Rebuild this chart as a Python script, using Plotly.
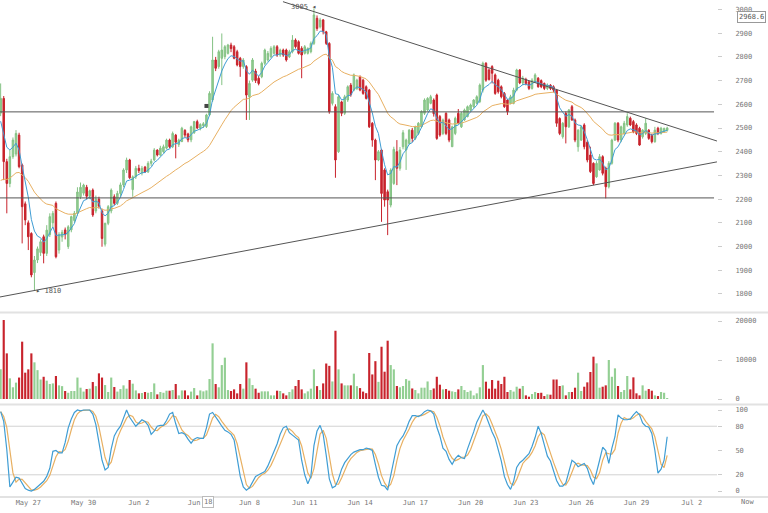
import pandas as pd
import plotly.graph_objects as go

# ---------------- data (4-hour candles, BTC/USD, May 25 - Jun 30 2017) ----------------
start_time = "2017-05-25 12:00"

open_ = [2563, 2625, 2358, 2266, 2379, 2390, 2470, 2344, 2180, 2100, 2055, 1890, 1943, 1975, 2041, 1971, 2050, 2100, 2182, 1985,
         2040, 2070, 2000, 2070, 2110, 2140, 2210, 2225, 2250, 2212, 2238, 2150, 2200, 2150, 2010, 2098, 2150, 2210, 2182, 2224,
         2260, 2323, 2365, 2240, 2294, 2330, 2310, 2335, 2315, 2351, 2365, 2407, 2386, 2400, 2415, 2449, 2421, 2470, 2430, 2443,
         2490, 2475, 2450, 2480, 2527, 2500, 2510, 2506, 2555, 2618, 2787, 2759, 2794, 2801, 2815, 2850, 2843, 2822, 2794, 2759,
         2759, 2632, 2702, 2740, 2710, 2716, 2773, 2787, 2801, 2815, 2843, 2808, 2829, 2829, 2800, 2822, 2871, 2864, 2836, 2815,
         2815, 2822, 2857, 2963, 2927, 2956, 2906, 2857, 2604, 2590, 2400, 2610, 2562, 2618, 2681, 2660, 2667, 2716, 2702, 2674,
         2660, 2520, 2449, 2365, 2407, 2323, 2231, 2175, 2266, 2400, 2330, 2421, 2407, 2435, 2491, 2456, 2477, 2505, 2562, 2576,
         2604, 2618, 2639, 2548, 2477, 2562, 2534, 2421, 2477, 2562, 2505, 2534, 2548, 2576, 2590, 2604, 2611, 2660, 2773, 2745,
         2759, 2724, 2702, 2674, 2646, 2618, 2604, 2604, 2660, 2745, 2690, 2705, 2695, 2667, 2695, 2710, 2700, 2688, 2667, 2681,
         2674, 2660, 2540, 2463, 2562, 2505, 2590, 2534, 2421, 2449, 2513, 2440, 2386, 2351, 2294, 2323, 2379, 2330, 2252, 2351,
         2449, 2520, 2449, 2477, 2513, 2541, 2527, 2513, 2499, 2463, 2477, 2491, 2470, 2442, 2499, 2477, 2484, 2490]
high = [2688, 2635, 2370, 2407, 2460, 2491, 2480, 2350, 2190, 2110, 2060, 1960, 2000, 2030, 2050, 2090, 2140, 2150, 2190, 2060,
        2070, 2080, 2090, 2130, 2150, 2250, 2270, 2265, 2260, 2240, 2245, 2215, 2210, 2160, 2100, 2175, 2245, 2220, 2235, 2270,
        2330, 2375, 2370, 2300, 2340, 2345, 2340, 2340, 2360, 2370, 2415, 2410, 2425, 2430, 2455, 2455, 2485, 2475, 2455, 2505,
        2495, 2480, 2510, 2530, 2535, 2520, 2525, 2560, 2655, 2885, 2800, 2830, 2899, 2850, 2855, 2860, 2850, 2830, 2800, 2795,
        2765, 2700, 2795, 2750, 2720, 2780, 2835, 2825, 2845, 2850, 2850, 2835, 2835, 2835, 2830, 2892, 2878, 2870, 2845, 2850,
        2840, 2865, 3005, 2975, 2965, 2960, 2910, 2862, 2655, 2600, 2640, 2615, 2640, 2680, 2690, 2730, 2708, 2722, 2708, 2680,
        2665, 2525, 2455, 2407, 2412, 2330, 2240, 2330, 2421, 2449, 2420, 2491, 2455, 2495, 2500, 2510, 2525, 2575, 2625, 2630,
        2640, 2625, 2645, 2555, 2540, 2566, 2540, 2510, 2548, 2580, 2568, 2582, 2595, 2603, 2622, 2638, 2688, 2780, 2778, 2752,
        2765, 2730, 2708, 2680, 2652, 2622, 2640, 2670, 2750, 2748, 2720, 2712, 2700, 2710, 2731, 2715, 2705, 2692, 2688, 2685,
        2680, 2665, 2545, 2525, 2570, 2580, 2597, 2540, 2495, 2510, 2520, 2449, 2421, 2355, 2360, 2390, 2385, 2337, 2360, 2455,
        2525, 2525, 2510, 2530, 2562, 2548, 2534, 2520, 2505, 2495, 2541, 2495, 2475, 2505, 2505, 2505, 2502, 2505]
low = [2550, 2280, 2140, 2250, 2370, 2380, 2330, 2013, 2090, 1985, 1870, 1816, 1930, 1960, 1929, 1960, 2040, 2080, 1950, 1970,
       2020, 2030, 1990, 2060, 2100, 2130, 2200, 2215, 2200, 2200, 2125, 2140, 2160, 1999, 2000, 2090, 2140, 2175, 2175, 2210,
       2250, 2310, 2285, 2210, 2285, 2310, 2300, 2310, 2310, 2340, 2360, 2380, 2380, 2395, 2410, 2415, 2415, 2372, 2420, 2440,
       2460, 2440, 2440, 2475, 2495, 2490, 2500, 2500, 2550, 2610, 2740, 2750, 2681, 2790, 2810, 2820, 2790, 2760, 2716, 2750,
       2534, 2534, 2695, 2690, 2680, 2710, 2765, 2780, 2795, 2810, 2800, 2800, 2800, 2780, 2795, 2815, 2835, 2810, 2710, 2810,
       2810, 2815, 2850, 2910, 2920, 2895, 2850, 2560, 2595, 2290, 2395, 2550, 2555, 2610, 2632, 2655, 2660, 2655, 2640, 2620,
       2500, 2421, 2280, 2360, 2104, 2168, 2048, 2165, 2260, 2259, 2320, 2410, 2323, 2430, 2440, 2449, 2470, 2500, 2555, 2570,
       2600, 2548, 2450, 2463, 2470, 2470, 2440, 2421, 2470, 2515, 2500, 2530, 2545, 2570, 2585, 2600, 2605, 2650, 2695, 2700,
       2688, 2640, 2645, 2625, 2585, 2555, 2600, 2600, 2655, 2685, 2680, 2680, 2660, 2662, 2690, 2670, 2668, 2660, 2660, 2660,
       2650, 2505, 2470, 2455, 2435, 2500, 2530, 2440, 2400, 2445, 2410, 2355, 2310, 2259, 2290, 2320, 2300, 2203, 2245, 2345,
       2445, 2440, 2440, 2470, 2505, 2508, 2478, 2470, 2425, 2455, 2470, 2450, 2435, 2438, 2470, 2472, 2480, 2485]
close = [2625, 2358, 2266, 2379, 2449, 2477, 2337, 2168, 2112, 2041, 1880, 1943, 1990, 2020, 1971, 2069, 2126, 2140, 1957, 2050,
         2060, 2050, 2083, 2126, 2140, 2230, 2250, 2259, 2212, 2235, 2133, 2200, 2170, 2034, 2098, 2168, 2238, 2182, 2224, 2260,
         2323, 2365, 2290, 2294, 2330, 2320, 2330, 2315, 2351, 2360, 2407, 2386, 2415, 2421, 2449, 2421, 2477, 2440, 2449, 2499,
         2470, 2450, 2505, 2527, 2500, 2515, 2518, 2555, 2646, 2787, 2752, 2822, 2829, 2843, 2850, 2835, 2794, 2766, 2759, 2787,
         2639, 2688, 2787, 2700, 2688, 2773, 2829, 2815, 2836, 2843, 2808, 2829, 2808, 2787, 2822, 2871, 2843, 2815, 2808, 2843,
         2836, 2857, 2977, 2920, 2956, 2906, 2857, 2569, 2646, 2365, 2632, 2562, 2632, 2674, 2640, 2724, 2702, 2660, 2646, 2625,
         2505, 2449, 2365, 2400, 2224, 2196, 2196, 2323, 2410, 2330, 2407, 2480, 2449, 2491, 2456, 2505, 2520, 2569, 2618, 2625,
         2632, 2560, 2456, 2470, 2534, 2477, 2449, 2505, 2541, 2520, 2562, 2576, 2590, 2597, 2618, 2632, 2681, 2773, 2702, 2705,
         2731, 2646, 2653, 2632, 2590, 2569, 2632, 2660, 2745, 2690, 2710, 2688, 2667, 2702, 2724, 2674, 2674, 2667, 2681, 2667,
         2660, 2520, 2477, 2520, 2505, 2576, 2534, 2449, 2491, 2505, 2421, 2365, 2316, 2266, 2351, 2379, 2309, 2252, 2351, 2449,
         2520, 2449, 2505, 2520, 2548, 2513, 2484, 2477, 2428, 2491, 2520, 2456, 2442, 2491, 2477, 2499, 2498, 2500]
volume = [7600, 20250, 11700, 5300, 3000, 4200, 5500, 14700, 6750, 7600, 11700, 9400, 7400, 5000, 5700, 4700, 3850, 4000, 5900, 3500,
          3300, 2050, 1600, 2050, 2050, 5500, 2900, 1900, 2550, 2650, 4350, 3300, 6580, 5500, 3580, 1800, 5500, 3070, 1900, 2550,
          3500, 2650, 4870, 3930, 2200, 1450, 1530, 1800, 1600, 1800, 4000, 1190, 1800, 1600, 2130, 2130, 2300, 3840, 930, 2200,
          2200, 930, 1900, 2810, 930, 2200, 1960, 2200, 5120, 14270, 3840, 3000, 8700, 10600, 2300, 2050, 2470, 1450, 3840, 2650,
          9400, 5300, 3580, 2650, 1600, 1960, 1960, 1960, 930, 930, 2130, 2050, 1450, 930, 1800, 2470, 3330, 4870, 2470, 1450,
          1960, 2650, 7600, 3300, 2300, 4000, 9100, 8500, 4500, 17500, 7600, 4000, 3500, 3500, 3500, 6500, 3300, 2800, 1900, 1500,
          11800, 6300, 9700, 4400, 13400, 7000, 14950, 8700, 7600, 3330, 3000, 3330, 5100, 4700, 2700, 2300, 1450, 2900, 2900, 4500,
          2300, 2700, 5700, 3670, 2470, 2550, 2130, 1960, 1800, 2470, 3330, 2300, 1800, 2130, 930, 1450, 3000, 8700, 4440, 2650,
          4870, 2650, 4700, 3840, 5700, 1800, 2300, 1900, 3150, 2650, 3330, 930, 590, 1270, 1800, 1530, 1600, 760, 1190, 1100,
          5000, 5000, 3330, 3500, 930, 1800, 1800, 2900, 6750, 2050, 3150, 4270, 6920, 10850, 9140, 2900, 3150, 3500, 10000, 5700,
          7860, 3330, 1800, 2300, 5900, 2470, 5550, 1450, 930, 3500, 2130, 2550, 2130, 930, 760, 1800, 1600, 250]
stoch_k = [98, 86, 51, 5, 11, 17, 16, 10, 3, 1, 0, 2, 5, 8, 12, 18, 28, 49, 50, 47,
           47, 60, 78, 89, 97, 100, 99, 100, 100, 100, 95, 82, 60, 38, 26, 29, 52, 68, 75, 80,
           90, 100, 91, 85, 80, 84, 88, 86, 81, 70, 74, 80, 81, 81, 87, 95, 97, 83, 71, 72,
           70, 64, 59, 64, 66, 65, 65, 78, 95, 97, 92, 86, 80, 75, 73, 70, 63, 42, 18, 5,
           1, 4, 12, 18, 20, 22, 24, 31, 40, 48, 58, 70, 78, 80, 72, 69, 66, 63, 38, 20,
           9, 18, 56, 74, 81, 70, 44, 15, 4, 6, 15, 27, 35, 40, 45, 48, 50, 51, 51, 53,
           52, 50, 33, 17, 7, 6, 1, 18, 38, 56, 63, 68, 76, 86, 93, 93, 92, 94, 98, 100,
           99, 95, 79, 68, 53, 49, 39, 33, 40, 44, 41, 40, 52, 62, 73, 85, 93, 100, 93, 82,
           73, 65, 52, 37, 18, 8, 2, 12, 29, 35, 38, 42, 46, 55, 66, 80, 71, 57, 43, 37,
           26, 13, 6, 6, 10, 25, 38, 35, 30, 32, 34, 28, 16, 8, 22, 38, 54, 50, 34, 53,
           67, 94, 90, 88, 88, 89, 94, 98, 94, 84, 80, 79, 71, 50, 22, 27, 38, 67]

# moving-average settings and their starting levels read at the left edge
ema_fast_span, ema_fast_start = 6, 2490
ema_slow_span, ema_slow_start = 30, 2255
stoch_d_len = 3

# drawn levels and trend lines (time, price)
levels = [2568, 2205]
level_span = ["2017-05-25 11:00", "2017-07-03 05:00"]
trend_down = [("2017-06-09 19:40", 3033), ("2017-07-03 08:50", 2445)]
trend_up = [("2017-05-25 11:09", 1787), ("2017-07-03 08:50", 2357)]

x_range = ["2017-05-25 11:09", "2017-07-03 08:53"]
tick_dates = ["2017-05-27", "2017-05-30", "2017-06-02", "2017-06-05", "2017-06-08", "2017-06-11", "2017-06-14",
              "2017-06-17", "2017-06-20", "2017-06-23", "2017-06-26", "2017-06-29", "2017-07-02"]
tick_text = ["May 27", "May 30", "Jun 2", "Jun", "Jun 8", "Jun 11", "Jun 14",
             "Jun 17", "Jun 20", "Jun 23", "Jun 26", "Jun 29", "Jul 2"]
price_ticks = list(range(1800, 3001, 100))
volume_ticks = [0, 10000, 20000]
stoch_ticks = [0, 20, 50, 80, 100]

# ---------------- derived series ----------------
times = pd.date_range(start_time, periods=len(close), freq="4h")
cs = pd.Series(close, dtype=float)


def ema(series, span, seed):
    a = 2.0 / (span + 1)
    out, prev = [], seed
    for v in series:
        prev = prev + a * (v - prev)
        out.append(prev)
    return out


ema_fast = ema(cs, ema_fast_span, ema_fast_start)
ema_slow = ema(cs, ema_slow_span, ema_slow_start)
stoch_d = pd.Series(stoch_k, dtype=float).rolling(stoch_d_len, min_periods=1).mean().tolist()

UP_FILL, UP_LINE = "#93cf93", "#84c284"
DN_FILL, DN_LINE = "#c8232c", "#c8232c"
BLUE, ORANGE = "#3f9dd4", "#e8b062"
vol_colors = [UP_FILL if c >= o else DN_FILL for o, c in zip(open_, close)]

MONO = "DejaVu Sans Mono"
TXT = "#777777"

fig = go.Figure()
fig.add_trace(go.Candlestick(
    x=times, open=open_, high=high, low=low, close=close,
    increasing=dict(fillcolor=UP_FILL, line=dict(color=UP_LINE, width=1)),
    decreasing=dict(fillcolor=DN_FILL, line=dict(color=DN_LINE, width=1)),
    whiskerwidth=0, xaxis="x", yaxis="y", showlegend=False, hoverinfo="skip"))
fig.add_trace(go.Scatter(x=times, y=ema_slow, mode="lines", line=dict(color=ORANGE, width=1),
                         xaxis="x", yaxis="y", showlegend=False, hoverinfo="skip"))
fig.add_trace(go.Scatter(x=times, y=ema_fast, mode="lines", line=dict(color=BLUE, width=1),
                         xaxis="x", yaxis="y", showlegend=False, hoverinfo="skip"))
fig.add_trace(go.Bar(x=times, y=volume, marker=dict(color=vol_colors, line=dict(width=0)),
                     xaxis="x", yaxis="y2", showlegend=False, hoverinfo="skip"))
fig.add_trace(go.Scatter(x=times, y=stoch_d, mode="lines", line=dict(color=ORANGE, width=1.2),
                         xaxis="x", yaxis="y3", showlegend=False, hoverinfo="skip"))
fig.add_trace(go.Scatter(x=times, y=stoch_k, mode="lines", line=dict(color=BLUE, width=1.2),
                         xaxis="x", yaxis="y3", showlegend=False, hoverinfo="skip"))
# crosshair dot
fig.add_trace(go.Scatter(x=["2017-06-05 16:00"], y=[2593], mode="markers",
                         marker=dict(symbol="square", size=4, color="#444"),
                         xaxis="x", yaxis="y", showlegend=False, hoverinfo="skip"))

shapes = []
# pane separators
for yp in [1 - 312.5 / 497, 1 - 404.5 / 497, 0.0]:
    shapes.append(dict(type="line", xref="paper", yref="paper", x0=0, x1=768 / 717, y0=yp, y1=yp,
                       line=dict(color="#e2e2e2", width=2), layer="below"))
# stochastic guide lines
for lv in [20, 80]:
    shapes.append(dict(type="line", xref="paper", yref="y3", x0=0, x1=1, y0=lv, y1=lv,
                       line=dict(color="#d2d2d2", width=1), layer="below"))
for lv in levels:
    shapes.append(dict(type="line", xref="x", yref="y", x0=level_span[0], x1=level_span[1], y0=lv, y1=lv,
                       line=dict(color="#555555", width=1)))
for (t0, p0), (t1, p1) in [trend_down, trend_up]:
    shapes.append(dict(type="line", xref="x", yref="y", x0=t0, x1=t1, y0=p0, y1=p1,
                       line=dict(color="#555555", width=1)))

label_font = dict(family=MONO, size=7, color="#555")
annotations = [
    dict(text="3005 \u25c2", xref="x", yref="y", x="2017-06-10 22:00", y=3010, showarrow=False,
         xanchor="center", yanchor="middle", font=label_font),
    dict(text="\u25b8 1810", xref="x", yref="y", x="2017-05-27 08:00", y=1812, xanchor="left",
         yanchor="middle", showarrow=False, font=label_font),
    dict(text="2968.6", xref="paper", yref="y", x=751 / 717, y=2968.6, showarrow=False,
         xanchor="center", yanchor="middle", font=label_font, bordercolor="#999", borderwidth=1,
         borderpad=1, bgcolor="white"),
    dict(text="18", xref="paper", yref="paper", x=207.5 / 717, y=1 - 502 / 497, showarrow=False,
         xanchor="center", yanchor="middle", font=dict(family=MONO, size=7, color=TXT),
         bordercolor="#bbb", borderwidth=1, borderpad=1, bgcolor="white"),
    dict(text="Now", xref="paper", yref="paper", x=747 / 717, y=1 - 502 / 497, showarrow=False,
         xanchor="center", yanchor="middle", font=dict(family=MONO, size=7, color=TXT)),
]

yax_common = dict(side="right", ticks="outside", ticklen=4, tickcolor="#cccccc", showgrid=False,
                  zeroline=False, showline=False, automargin=False, ticklabelstandoff=12,
                  tickfont=dict(family=MONO, size=7, color=TXT), fixedrange=True)

fig.update_layout(
    template="none",
    width=768, height=513,
    margin=dict(l=0, r=51, t=0, b=16, pad=0),
    paper_bgcolor="white", plot_bgcolor="white",
    showlegend=False,
    bargap=0.3,
    xaxis=dict(type="date", range=x_range, anchor="y3", tickvals=tick_dates, ticktext=tick_text,
               showgrid=False, zeroline=False, showline=False, ticks="", automargin=False,
               tickfont=dict(family=MONO, size=7, color=TXT), rangeslider=dict(visible=False)),
    yaxis=dict(domain=[1 - 312 / 497, 1], range=[1723.6, 3040.1], tickvals=price_ticks,
               ticktext=[str(v) for v in price_ticks], anchor="x", **yax_common),
    yaxis2=dict(domain=[1 - 404 / 497, 1 - 313 / 497], range=[-1282, 22050], tickvals=volume_ticks,
                ticktext=[str(v) for v in volume_ticks], anchor="x", **yax_common),
    yaxis3=dict(domain=[0, 1 - 405 / 497], range=[-7.4, 106.2], tickvals=stoch_ticks,
                ticktext=[str(v) for v in stoch_ticks], anchor="x", **yax_common),
    shapes=shapes,
    annotations=annotations,
)

fig.write_html("out.html")
